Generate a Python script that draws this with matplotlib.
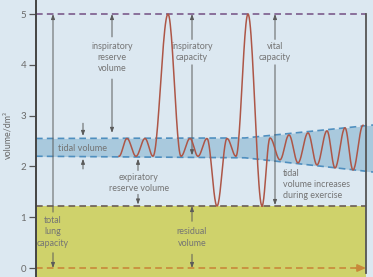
import numpy as np
import matplotlib
matplotlib.use('Agg')
import matplotlib.pyplot as plt

plt.rcParams['font.family'] = ['Lato', 'DejaVu Sans']

# lung volume levels (dm3)
TLC = 5.0
RV = 1.22
TIDAL_LO = 2.2
TIDAL_HI = 2.55

# turning points of the spirometer trace (time, volume)
trace_t = [119, 127, 136, 145, 153, 168, 181, 190, 198, 207, 217, 227, 236, 248,
           262, 270, 280, 289, 298, 308, 317, 327, 335, 345, 353, 363]
trace_v = [2.2, 2.55, 2.2, 2.55, 2.2, 5.0, 2.2, 2.55, 2.2, 2.55, 1.22, 2.55, 2.2, 5.0,
           1.22, 2.56, 2.13, 2.62, 2.07, 2.66, 2.03, 2.70, 1.97, 2.76, 1.93, 2.81]

# tidal band outline (widens during exercise)
band_t = [36, 245, 373]
band_hi = [2.55, 2.56, 2.815]
band_lo = [2.2, 2.17, 1.89]

yticks = [0, 1, 2, 3, 4, 5]

BG = '#dce8f1'
TXT = '#747474'
ARR = '#5a5a5a'


def smooth(ts, vs, n=24):
    # half-cosine between consecutive turning points
    xs, ys = [], []
    for i in range(len(ts) - 1):
        u = np.linspace(0, 1, n)
        xs.append(ts[i] + (ts[i + 1] - ts[i]) * u)
        ys.append(vs[i] + (vs[i + 1] - vs[i]) * (1 - np.cos(np.pi * u)) / 2)
    return np.concatenate(xs), np.concatenate(ys)


def arrow(ax, x, y0, y1):
    ax.annotate('', xy=(x, y1), xytext=(x, y0),
                arrowprops=dict(arrowstyle='-|>,head_length=0.3,head_width=0.11',
                                color=ARR, lw=0.7, shrinkA=0, shrinkB=0))


fig = plt.figure(figsize=(3.73, 2.77), dpi=100, facecolor=BG)
ax = fig.add_axes([36 / 373, 0, 337 / 373, 1])
ax.set_facecolor(BG)
ax.set_xlim(36, 373)
ax.set_ylim(-0.177, 5.276)

# residual volume block
ax.fill_between([36, 366], -0.177, RV, color='#cfd26b', lw=0, zorder=1)

# tidal band
ax.fill_between(band_t, band_lo, band_hi, color='#a9c9dd', lw=0, zorder=1)
dash = (0, (4, 2.5))
ax.plot(band_t, band_hi, color='#4f8fbf', lw=1.2, ls=dash, zorder=2)
ax.plot(band_t, band_lo, color='#4f8fbf', lw=1.2, ls=dash, zorder=2)

ax.plot([36, 366], [TLC, TLC], color='#7b5b8c', lw=1.2, ls=dash, zorder=2)
ax.plot([36, 366], [RV, RV], color='#6b5d55', lw=1.2, ls=dash, zorder=2)
ax.plot([36, 358], [0, 0], color='#c8883a', lw=1.2, ls=dash, zorder=2)
ax.annotate('', xy=(366, 0), xytext=(356, 0),
            arrowprops=dict(arrowstyle='-|>,head_length=0.5,head_width=0.22',
                            color='#c8883a', lw=1.2, shrinkA=0, shrinkB=0))
ax.plot([366, 366], [-0.1, TLC], color='#555555', lw=1.3, zorder=3)

# trace
tx, tv = smooth(trace_t, trace_v)
ax.plot(tx, tv, color='#ad5647', lw=1.1, zorder=4)

# annotations
ts = 6.4
kw = dict(fontsize=ts, color=TXT, linespacing=1.3)
ax.text(53, 0.71, 'total\nlung\ncapacity', ha='center', va='center', **kw)
arrow(ax, 53, 1.1, TLC)
arrow(ax, 53, 0.3, 0)

ax.text(82, 2.36, 'tidal volume', ha='center', va='center', fontsize=6.6, color=TXT)
arrow(ax, 83, 2.85, 2.6)
arrow(ax, 83, 1.95, 2.15)

ax.text(112, 4.15, 'inspiratory\nreserve\nvolume', ha='center', va='center', **kw)
arrow(ax, 112, 4.55, TLC)
arrow(ax, 112, 3.72, 2.66)

ax.text(192, 4.26, 'inspiratory\ncapacity', ha='center', va='center', **kw)
arrow(ax, 192, 4.5, TLC)
arrow(ax, 192, 4.0, TIDAL_LO + 0.02)

ax.text(275, 4.26, 'vital\ncapacity', ha='center', va='center', **kw)
arrow(ax, 275, 4.5, TLC)
arrow(ax, 275, 4.0, RV + 0.02)

ax.text(139, 1.68, 'expiratory\nreserve volume', ha='center', va='center', **kw)
arrow(ax, 138, 1.92, 2.15)
arrow(ax, 138, 1.45, RV + 0.03)

ax.text(192, 0.6, 'residual\nvolume', ha='center', va='center', **kw)
arrow(ax, 192, 0.92, RV)
arrow(ax, 192, 0.27, 0)

ax.text(283, 1.64, 'tidal\nvolume increases\nduring exercise', ha='left', va='center', **kw)

# axis styling
for s in ['top', 'right', 'bottom']:
    ax.spines[s].set_visible(False)
ax.spines['left'].set_color('#444444')
ax.spines['left'].set_linewidth(1.4)
ax.set_xticks([])
ax.set_yticks(yticks)
ax.tick_params(axis='y', direction='out', length=5, width=0.9, color='#555555',
               labelsize=7, labelcolor='#6a6a6a', pad=2)
fig.text(8 / 373, 1 - 135 / 277, 'volume/dm\u00b3', rotation=90, ha='center', va='center',
         fontsize=6.4, color='#6a6a6a')

fig.savefig('out.png', dpi=100, facecolor=BG)
